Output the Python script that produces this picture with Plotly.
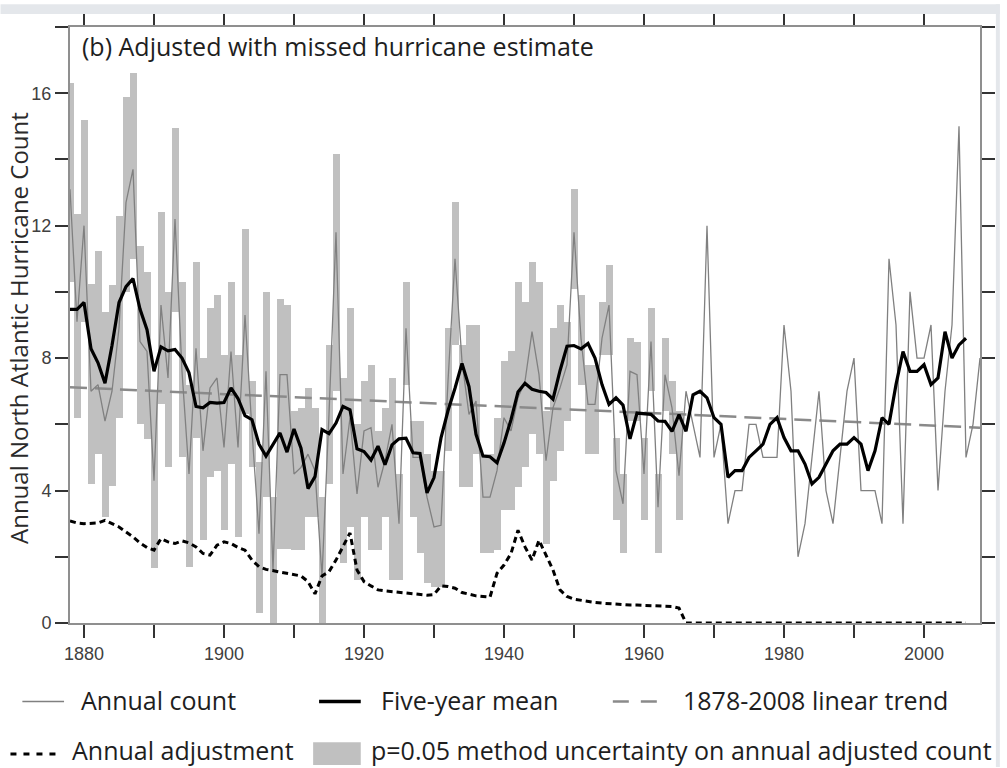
import plotly.graph_objects as go

# ---------------- data ----------------
years = list(range(1878, 2009))

# adjusted annual hurricane count (1878-2008)
annual_count = [
    13.1, 9.1, 12.0, 7.0, 7.2, 6.1, 7.0, 8.9, 12.7, 13.7,
    8.5, 8.2, 4.3, 9.6, 7.4, 12.2, 7.6, 4.5, 8.3, 5.2,
    7.1, 7.4, 5.3, 8.2, 5.3, 9.3, 5.8, 2.7, 7.6, 1.6,
    7.5, 7.5, 4.5, 4.7, 5.1, 4.6, 1.4, 6.3, 11.8, 4.5,
    6.2, 3.9, 5.8, 5.9, 4.1, 4.9, 6.0, 3.0, 8.9, 5.0,
    5.0, 3.8, 2.9, 2.95, 7.3, 11.0, 7.9, 6.3, 6.7, 3.8,
    3.8, 4.6, 6.2, 5.8, 6.8, 7.3, 8.8, 7.5, 4.9, 6.5,
    7.1, 7.8, 11.8, 8.6, 6.6, 6.6, 8.6, 9.6, 4.6, 3.6,
    7.6, 7.5, 4.5, 8.5, 3.5, 7.5, 6.5, 4.45, 7, 6,
    5, 12, 5, 6, 3, 4, 4, 6, 6, 5,
    5, 5, 9, 7, 2, 3, 5, 7, 4, 3,
    5, 7, 8, 4, 4, 4, 3, 11, 9, 3,
    10, 8, 8, 9, 4, 7, 9, 15, 5, 6,
    8,
]

# five-year running mean (1878-2006)
mean_years = list(range(1878, 2007))
five_year_mean = [
    9.47, 9.47, 9.68, 8.28, 7.86, 7.24, 8.38, 9.68, 10.16, 10.40,
    9.48, 8.86, 7.60, 8.34, 8.22, 8.26, 8.00, 7.56, 6.54, 6.50,
    6.66, 6.64, 6.66, 7.10, 6.78, 6.26, 6.14, 5.40, 5.04, 5.38,
    5.74, 5.16, 5.86, 5.28, 4.06, 4.42, 5.84, 5.72, 6.04, 6.54,
    6.44, 5.26, 5.18, 4.92, 5.34, 4.78, 5.38, 5.56, 5.58, 5.14,
    5.12, 3.93, 4.39, 5.59, 6.41, 7.09, 7.84, 7.14, 5.70, 5.04,
    5.02, 4.84, 5.44, 6.14, 6.98, 7.24, 7.06, 7.00, 6.96, 6.76,
    7.62, 8.36, 8.38, 8.28, 8.44, 8.00, 7.20, 6.60, 6.80, 6.58,
    5.56, 6.34, 6.32, 6.30, 6.10, 6.09, 5.79, 6.29, 5.79, 6.89,
    7.00, 6.80, 6.20, 6.00, 4.40, 4.60, 4.60, 5.00, 5.20, 5.40,
    6.00, 6.20, 5.60, 5.20, 5.20, 4.80, 4.20, 4.40, 4.80, 5.20,
    5.40, 5.40, 5.60, 5.40, 4.60, 5.20, 6.20, 6.00, 7.20, 8.20,
    7.60, 7.60, 7.80, 7.20, 7.40, 8.80, 8.00, 8.40, 8.60,
]

# annual adjustment for missed hurricanes (1878-2006)
adjustment = [
    3.08, 3.02, 3.00, 3.00, 3.02, 3.10, 3.00, 2.90, 2.75, 2.60,
    2.42, 2.28, 2.20, 2.55, 2.45, 2.40, 2.48, 2.42, 2.30, 2.10,
    2.05, 2.35, 2.45, 2.40, 2.28, 2.20, 1.90, 1.70, 1.62, 1.58,
    1.52, 1.48, 1.45, 1.42, 1.25, 0.88, 1.42, 1.55, 1.90, 2.30,
    2.72, 1.60, 1.25, 1.12, 1.00, 0.97, 0.95, 0.92, 0.90, 0.88,
    0.86, 0.84, 0.86, 1.12, 1.10, 1.05, 0.92, 0.86, 0.82, 0.80,
    0.78, 1.50, 1.75, 2.10, 2.80, 2.30, 1.90, 2.50, 2.05, 1.60,
    1.00, 0.80, 0.72, 0.68, 0.65, 0.62, 0.60, 0.58, 0.56, 0.55,
    0.54, 0.54, 0.53, 0.52, 0.52, 0.52, 0.50, 0.45, 0, 0,
    0, 0, 0, 0, 0, 0, 0, 0, 0, 0,
    0, 0, 0, 0, 0, 0, 0, 0, 0, 0,
    0, 0, 0, 0, 0, 0, 0, 0, 0, 0,
    0, 0, 0, 0, 0, 0, 0, 0, 0,
]

# p=0.05 method uncertainty range on the adjusted count (1878-1965)
unc_years = list(range(1878, 1966))
unc_low = [
    10.3, 6.2, 9.1, 4.2, 5.1, 3.2, 4.15, 6.2, 10.0, 11.0,
    6.0, 5.55, 1.65, 6.6, 4.7, 9.4, 5.0, 1.7, 5.6, 2.5,
    4.4, 4.6, 2.8, 4.8, 2.6, 6.3, 4.7, 0.3, 3.8, 0.0,
    2.25, 2.25, 2.2, 2.2, 3.2, 3.2, 0.0, 4.2, 7.0, 1.8,
    2.9, 1.3, 3.2, 2.2, 2.2, 3.2, 1.3, 1.3, 7.2, 3.2,
    2.1, 1.2, 1.1, 1.1, 5.2, 8.4, 4.1, 4.1, 5.1, 2.1,
    2.1, 2.2, 3.4, 3.4, 4.1, 4.7, 5.7, 5.1, 2.4, 4.3,
    5.2, 6.1, 10.1, 7.2, 5.1, 5.1, 8.1, 8.1, 3.1, 2.1,
    6.1, 6.1, 3.1, 7.0, 2.1, 6.4, 5.1, 3.1,
]
unc_high = [
    16.3, 12.35, 15.2, 10.25, 11.25, 9.4, 10.2, 12.3, 15.9, 16.6,
    11.4, 10.6, 7.0, 12.4, 10.0, 14.95, 10.3, 7.2, 10.9, 8.0,
    9.5, 9.9, 8.1, 10.3, 8.1, 11.9, 7.3, 4.85, 10.0, 3.8,
    9.8, 9.6, 6.4, 6.5, 7.1, 6.5, 3.8, 8.4, 14.15, 7.4,
    9.5, 6.0, 7.3, 7.8, 5.8, 6.5, 7.4, 4.5, 10.3, 6.1,
    6.1, 5.1, 4.6, 4.6, 8.9, 12.7, 8.4, 9.0, 9.0, 5.1,
    5.1, 6.2, 7.9, 8.2, 10.3, 9.7, 10.9, 10.3, 6.4, 8.9,
    9.6, 9.1, 13.1, 9.9, 7.8, 7.8, 9.7, 10.8, 5.6, 4.5,
    8.6, 8.5, 5.6, 9.5, 4.5, 8.6, 7.3, 6.4,
]

# 1878-2008 linear trend end points
trend_years = [1878, 2008]
trend_values = [7.12, 5.90]

x_ticks = [1880, 1900, 1920, 1940, 1960, 1980, 2000]
x_minor = [1890, 1910, 1930, 1950, 1970, 1990]
y_ticks = [0, 4, 8, 12, 16]
y_minor = [2, 6, 10, 14, 18]

# ---------------- styling ----------------
W, H = 1007, 768
ML, MR, MT, MB = 70, 20, 23, 145
PW, PH = W - ML - MR, H - MT - MB

BAR_GREY = "#c0c0c0"
LINE_GREY = "#808080"
TREND_GREY = "#8a8a8a"
AXIS_GREY = "#8f8f8f"
TICK_DARK = "#333333"
TEXT = "#1e1e1e"
TEXT_FONT = "Open Sans"
NUM_FONT = "Liberation Sans"


def px(xpix):
    return (xpix - ML) / PW


def py(ypix):
    return (H - MB - ypix) / PH


fig = go.Figure()

fig.add_trace(go.Bar(
    x=unc_years,
    base=unc_low,
    y=[h - l for l, h in zip(unc_low, unc_high)],
    width=1.0,
    marker=dict(color=BAR_GREY, line=dict(width=0)),
    hoverinfo="skip",
))

fig.add_trace(go.Scatter(
    x=trend_years, y=trend_values, mode="lines",
    line=dict(color=TREND_GREY, width=2.5, dash="17px,8px"),
))

fig.add_trace(go.Scatter(
    x=years, y=annual_count, mode="lines",
    line=dict(color=LINE_GREY, width=1.3),
))

fig.add_trace(go.Scatter(
    x=mean_years, y=adjustment, mode="lines",
    line=dict(color="black", width=3, dash="6px,4px"),
))

fig.add_trace(go.Scatter(
    x=mean_years, y=five_year_mean, mode="lines",
    line=dict(color="black", width=3.2),
))

axis_common = dict(
    showline=True, linecolor=AXIS_GREY, linewidth=2,
    ticks="outside", ticklen=13, tickwidth=1.5, tickcolor=TICK_DARK,
    mirror="ticks", showgrid=False, zeroline=False,
    tickfont=dict(family=NUM_FONT, size=18, color="#404040"),
)

fig.update_xaxes(
    range=[1878, 2008], tickvals=x_ticks, ticktext=[str(v) for v in x_ticks],
    minor=dict(tickvals=x_minor, ticks="outside", ticklen=13, tickwidth=1.5,
               tickcolor=TICK_DARK, showgrid=False),
    **axis_common,
)
fig.update_yaxes(
    range=[0, 18], tickvals=y_ticks, ticktext=[str(v) for v in y_ticks],
    minor=dict(tickvals=y_minor, ticks="outside", ticklen=13, tickwidth=1.5,
               tickcolor=TICK_DARK, showgrid=False),
    **axis_common,
)

shapes = []
annotations = []

# page frame strips
shapes.append(dict(type="rect", xref="paper", yref="paper", layer="above",
                   x0=px(0), x1=px(W), y0=py(10), y1=py(0),
                   fillcolor="#e4e7eb", line=dict(width=0)))
shapes.append(dict(type="rect", xref="paper", yref="paper", layer="above",
                   x0=px(1003), x1=px(W), y0=py(H), y1=py(0),
                   fillcolor="#e4e7eb", line=dict(width=0)))

# panel label
annotations.append(dict(
    text="(b) Adjusted with missed hurricane estimate",
    xref="paper", yref="paper", x=px(80), y=py(42),
    xanchor="left", yanchor="middle", showarrow=False,
    font=dict(family=TEXT_FONT, size=25, color=TEXT),
))

# y-axis title
annotations.append(dict(
    text="Annual North Atlantic Hurricane Count",
    xref="paper", yref="paper", x=px(1), y=py(326),
    xanchor="left", yanchor="middle", textangle=-90, showarrow=False,
    borderpad=0,
    font=dict(family=TEXT_FONT, size=24, color="#2a2a2a"),
))

# legend, row 1
ROW1, ROW2 = 701, 750.5
shapes.append(dict(type="line", xref="paper", yref="paper",
                   x0=px(22), x1=px(64), y0=py(702), y1=py(702),
                   line=dict(color=LINE_GREY, width=1.5)))
shapes.append(dict(type="line", xref="paper", yref="paper",
                   x0=px(321), x1=px(363), y0=py(702), y1=py(702),
                   line=dict(color="black", width=3.5)))
shapes.append(dict(type="line", xref="paper", yref="paper",
                   x0=px(617), x1=px(662), y0=py(702), y1=py(702),
                   line=dict(color=TREND_GREY, width=2.5, dash="16px,12px")))
# legend, row 2
shapes.append(dict(type="line", xref="paper", yref="paper",
                   x0=px(10), x1=px(58), y0=py(755), y1=py(755),
                   line=dict(color="black", width=3, dash="6px,7px")))
shapes.append(dict(type="rect", xref="paper", yref="paper",
                   x0=px(315), x1=px(363), y0=py(766), y1=py(743),
                   fillcolor=BAR_GREY, line=dict(width=0)))

legend_items = [
    ("Annual count", 80, ROW1),
    ("Five-year mean", 382, ROW1),
    ("1878-2008 linear trend", 687, ROW1),
    ("Annual adjustment", 71, ROW2),
    ("p=0.05 method uncertainty on annual adjusted count", 372, ROW2),
]
for label, xpix, ypix in legend_items:
    annotations.append(dict(
        text=label, xref="paper", yref="paper", x=px(xpix), y=py(ypix),
        xanchor="left", yanchor="middle", showarrow=False, borderpad=0,
        font=dict(family=TEXT_FONT, size=25, color=TEXT),
    ))

fig.update_layout(
    width=W, height=H, autosize=False,
    margin=dict(l=ML, r=MR, t=MT, b=MB),
    paper_bgcolor="white", plot_bgcolor="white",
    showlegend=False, bargap=0,
    shapes=shapes, annotations=annotations,
)

fig.write_html("out.html")
